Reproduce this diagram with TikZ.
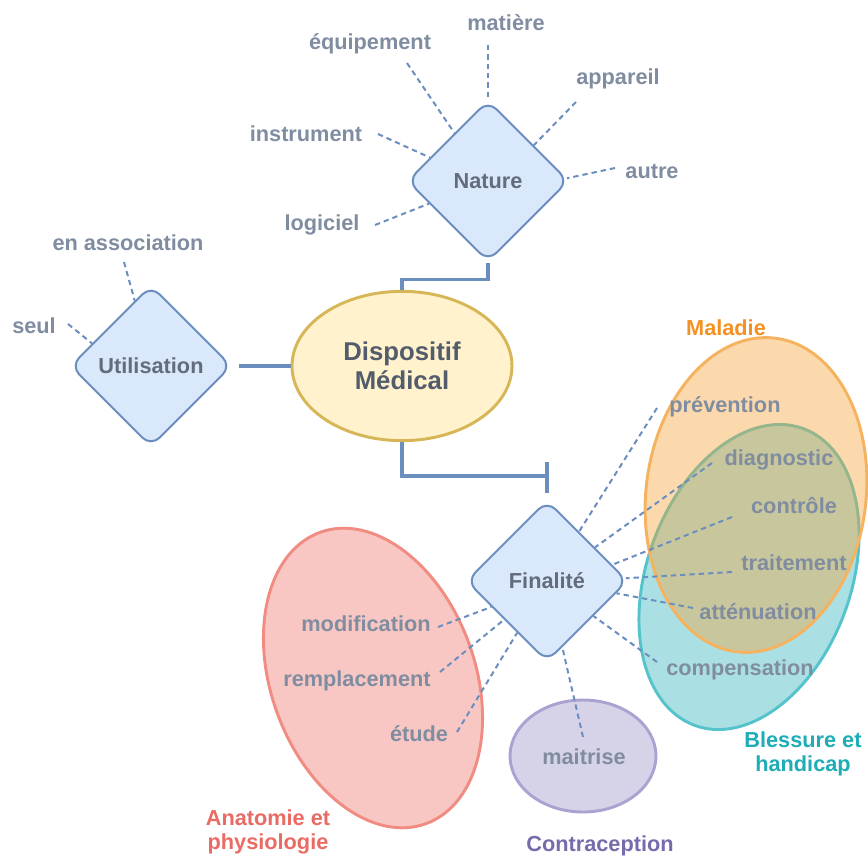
\documentclass[tikz,border=0pt]{standalone}
\usepackage{fontspec}
\setmainfont{Liberation Sans}
\usetikzlibrary{shapes.geometric}

\definecolor{diafill}{RGB}{218,232,252}
\definecolor{diadraw}{RGB}{108,142,191}
\definecolor{diatext}{RGB}{98,108,124}
\definecolor{lbltext}{RGB}{128,141,161}
\definecolor{dmfill}{RGB}{255,242,204}
\definecolor{dmdraw}{RGB}{214,182,86}
\definecolor{dmtext}{RGB}{82,92,108}
\definecolor{orgfill}{RGB}{245,160,50}
\definecolor{orgdraw}{RGB}{245,178,95}
\definecolor{orgtext}{RGB}{245,145,35}
\definecolor{tealfill}{RGB}{20,170,180}
\definecolor{tealdraw}{RGB}{85,195,202}
\definecolor{tealtext}{RGB}{30,172,182}
\definecolor{redfill}{RGB}{235,100,90}
\definecolor{reddraw}{RGB}{240,140,130}
\definecolor{redtext}{RGB}{234,107,100}
\definecolor{purfill}{RGB}{120,110,180}
\definecolor{purdraw}{RGB}{172,162,210}
\definecolor{purtext}{RGB}{118,108,172}

\tikzset{
  diabox/.style={diamond, draw=diadraw, fill=diafill, line width=1.5pt, rounded corners=9pt,
    minimum width=121pt, minimum height=121pt, inner sep=0pt,
    font=\fontsize{16.3}{19}\selectfont\bfseries, text=diatext},
  lbl/.style={font=\fontsize{16.3}{19}\selectfont\bfseries, text=lbltext, inner sep=0pt,
    text height=0.75em, text depth=0.2em},
  grouplbl/.style={font=\fontsize{16.3}{18}\selectfont\bfseries, inner sep=0pt, align=center},
  link/.style={draw=diadraw, line width=2.4pt},
  dashline/.style={draw=diadraw, line width=1.5pt, dash pattern=on 4pt off 3pt},
  groupshape/.style={line width=2.2pt, fill opacity=0.36}
}

\begin{document}
\begin{tikzpicture}[x=0.75pt,y=0.75pt,yscale=-1,xscale=1]
\useasboundingbox (0,0) rectangle (868,857);

%Shape: Ellipse [Blessure et handicap]
\draw [groupshape, draw=tealdraw, fill=tealfill, rotate around={20:(749,577)}] (749,577) ellipse (102 and 158) ;
%Shape: Ellipse [Maladie]
\draw [groupshape, draw=orgdraw, fill=orgfill, fill opacity=0.4, rotate around={7:(756,495)}] (756,495) ellipse (110 and 158) ;
%Shape: Ellipse [Anatomie et physiologie]
\draw [groupshape, draw=reddraw, fill=redfill, rotate around={-20:(373,678)}] (373,678) ellipse (102 and 155) ;
%Shape: Ellipse [Contraception]
\draw [groupshape, draw=purdraw, fill=purfill, fill opacity=0.3] (583,756) ellipse (73 and 56) ;

%Shape: Diamond
\node [diabox] (N) at (488,181) {Nature};
%Shape: Diamond
\node [diabox] (U) at (151,366) {Utilisation};
%Shape: Diamond
\node [diabox] (F) at (547,581) {Finalité};
%Shape: Ellipse
\node [ellipse, draw=dmdraw, fill=dmfill, line width=2.2pt, minimum width=165pt, minimum height=112pt,
  inner sep=0pt, align=center, text=dmtext, font=\fontsize{19.3}{21.75}\selectfont\bfseries] (D) at (402,366) {Dispositif\\Médical};

%Straight Lines
\draw [link] (N.south) -- ++(0,17) -| (D.north) ;
\draw [link] ([xshift=4.5pt]U.east) -- (D.west) ;
\coordinate (fbar) at (547,476) ;
\draw [link] (D.south) |- (fbar) ;
\draw [link, shorten >=5pt] (fbar) ++(0,-14) -- (F.north) ;

%Text Node
\node [lbl] (matiere) at (506,27) {matière};
\node [lbl] (equip) at (370,46) {équipement};
\node [lbl] (appareil) at (618,81) {appareil};
\node [lbl] (instrument) at (306,138) {instrument};
\node [lbl] (autre) at (652,175) {autre};
\node [lbl] (logiciel) at (322,227) {logiciel};
\node [lbl] (assoc) at (128,247) {en association};
\node [lbl] (seul) at (34,330) {seul};
\node [lbl] (prevention) at (725,409) {prévention};
\node [lbl] (diagnostic) at (779,462) {diagnostic};
\node [lbl] (controle) at (794,510) {contrôle};
\node [lbl] (traitement) at (794,567) {traitement};
\node [lbl] (attenuation) at (758,616) {atténuation};
\node [lbl] (compensation) at (740,672) {compensation};
\node [lbl] (maitrise) at (584,761) {maitrise};
\node [lbl] (modification) at (366,628) {modification};
\node [lbl] (remplacement) at (357,683) {remplacement};
\node [lbl] (etude) at (419,738) {étude};

%Text Node
\node [grouplbl, text=orgtext] (maladie) at (726,328) {Maladie};
\node [grouplbl, text=tealtext] (blessure) at (803,754) {Blessure et\\handicap};
\node [grouplbl, text=redtext] (anatomie) at (268,832) {Anatomie et\\physiologie};
\node [grouplbl, text=purtext] (contra) at (600,846) {Contraception};

%Straight Lines
\coordinate (matiereEnd) at (488,45) ;
\coordinate (equipEnd) at (407,63) ;
\coordinate (appareilEnd) at (576,102) ;
\coordinate (instrumentEnd) at (378,134) ;
\coordinate (autreEnd) at (615,168) ;
\coordinate (logicielEnd) at (375,225) ;
\draw [dashline] (matiereEnd) -- (N.north) ;
\draw [dashline] (equipEnd) -- (N.125) ;
\draw [dashline] (appareilEnd) -- (N.38) ;
\draw [dashline] (instrumentEnd) -- (N.158) ;
\draw [dashline] (autreEnd) -- (N.2) ;
\draw [dashline] (logicielEnd) -- (N.201) ;

\coordinate (assocEnd) at (124,262) ;
\coordinate (seulEnd) at (68,324) ;
\draw [dashline] (assocEnd) -- (U.104) ;
\draw [dashline] (seulEnd) -- (U.159) ;

\coordinate (preventionEnd) at (657,408) ;
\coordinate (diagnosticEnd) at (712,463) ;
\coordinate (controleEnd) at (732,517) ;
\coordinate (traitementEnd) at (732,572) ;
\coordinate (attenuationEnd) at (693,608) ;
\coordinate (compensationEnd) at (657,662) ;
\coordinate (maitriseEnd) at (583,737) ;
\coordinate (modificationEnd) at (438,627) ;
\coordinate (remplacementEnd) at (440,672) ;
\coordinate (etudeEnd) at (457,732) ;
\draw [dashline] (preventionEnd) -- (F.57) ;
\draw [dashline] (diagnosticEnd) -- (F.35) ;
\draw [dashline] (controleEnd) -- (F.14) ;
\draw [dashline] (traitementEnd) -- (F.2) ;
\draw [dashline] (attenuationEnd) -- (F.-10) ;
\draw [dashline] (compensationEnd) -- (F.-37) ;
\draw [dashline] (maitriseEnd) -- (F.-77) ;
\draw [dashline] (modificationEnd) -- (F.205) ;
\draw [dashline] (remplacementEnd) -- (F.222) ;
\draw [dashline] (etudeEnd) -- (F.240) ;

\end{tikzpicture}
\end{document}
